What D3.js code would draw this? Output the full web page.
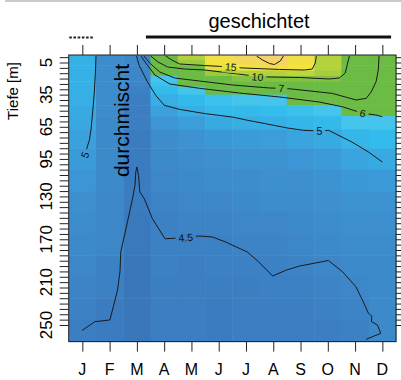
<!DOCTYPE html>
<html>
<head>
<meta charset="utf-8">
<script src="https://cdn.jsdelivr.net/npm/d3@7"></script>
<style>
  html, body { margin: 0; padding: 0; background: #fff; }
  svg { display: block; font-family: "Liberation Sans", Arial, sans-serif; }
</style>
</head>
<body>
<div id="chart"></div>
<script>
// months (x) and depth rows (y, m)
const months = ["J", "F", "M", "A", "M", "J", "J", "A", "S", "O", "N", "D"];
const depths = [0, 5, 10, 15, 20, 25, 30, 40, 50, 60, 75, 95, 115, 135, 155, 175, 195, 215, 235, 255];

// temperature per month, one value per depth row (°C)
const janT = [5.4, 5.4, 5.4, 5.4, 5.4, 5.4, 5.4, 5.35, 5.3, 5.25, 5.15, 5.05, 4.95, 4.85, 4.8, 4.75, 4.7, 4.65, 4.6, 4.55];
const febT = [4.8, 4.8, 4.8, 4.8, 4.8, 4.8, 4.8, 4.8, 4.8, 4.75, 4.75, 4.75, 4.75, 4.7, 4.7, 4.7, 4.6, 4.6, 4.5, 4.5];
const marT = [4.7, 4.7, 4.7, 4.7, 4.7, 4.7, 4.6, 4.55, 4.55, 4.55, 4.5, 4.5, 4.5, 4.5, 4.45, 4.45, 4.4, 4.4, 4.4, 4.4];
const aprT = [8, 7.5, 7, 6.5, 5.9, 5.8, 5.65, 5.35, 5.15, 4.95, 4.8, 4.75, 4.7, 4.65, 4.6, 4.6, 4.6, 4.55, 4.55, 4.55];
const mayT = [12, 11, 9, 8, 7, 6.3, 5.9, 5.6, 5.35, 5.1, 4.9, 4.8, 4.75, 4.7, 4.65, 4.6, 4.55, 4.55, 4.55, 4.55];
const junT = [15, 14.5, 14, 11, 9, 8, 7, 5.8, 5.6, 5.3, 5.0, 4.85, 4.8, 4.7, 4.65, 4.6, 4.6, 4.55, 4.5, 4.5];
const julT = [16, 15.5, 14.5, 12, 10, 8.5, 7, 5.9, 5.6, 5.35, 5.05, 4.9, 4.8, 4.75, 4.7, 4.65, 4.6, 4.55, 4.55, 4.55];
const augT = [16.5, 16, 15, 12, 10, 8.5, 7, 5.9, 5.7, 5.4, 5.1, 4.9, 4.85, 4.8, 4.7, 4.65, 4.6, 4.6, 4.55, 4.55];
const sepT = [15, 14.8, 14.5, 12.5, 10, 8, 7, 6.5, 5.8, 5.5, 5.2, 4.95, 4.85, 4.8, 4.75, 4.7, 4.65, 4.6, 4.55, 4.55];
const octT = [12, 12, 12, 11.5, 10, 8, 7, 6.5, 5.9, 5.6, 5.3, 5.05, 4.9, 4.85, 4.8, 4.75, 4.7, 4.65, 4.6, 4.55];
const novT = [9, 9, 9, 8.8, 8.5, 8, 7.5, 7, 6.2, 5.9, 5.5, 5.2, 5.0, 4.9, 4.85, 4.8, 4.75, 4.7, 4.65, 4.6];
const decT = [7, 7, 7, 7, 7, 6.9, 6.8, 6.6, 6.3, 5.9, 5.65, 5.3, 5.05, 4.9, 4.85, 4.8, 4.75, 4.75, 4.75, 4.75];
const columns = [janT, febT, marT, aprT, mayT, junT, julT, augT, sepT, octT, novT, decT];

// isotherms: [month, depth], label at index `at`
const iso15 = [[4.06, -1], [4.28, 2.7], [4.57, 6.4], [5.48, 7.8], [6.03, 8.6], [6.44, 9.2], [6.87, 10.1], [8.23, 11.5], [9.14, 12.0], [9.43, 11.1], [9.54, 5.5], [9.58, -1]];
const iso16 = [[7.39, -1], [7.61, 2.7], [7.86, 5.9], [8.04, 6.9], [8.26, 3.6], [8.37, -1]];
const iso10 = [[3.51, -1], [3.77, 4.5], [4.13, 9.2], [4.75, 11.1], [5.49, 12.0], [6.40, 14.8], [7.13, 17.1], [7.42, 18.5], [7.79, 18.5], [8.96, 19.0], [10.05, 20.4], [10.42, 19.5], [10.64, 14.8], [10.71, 7.3], [10.79, -1]];
const iso7 = [[3.26, -1], [3.47, 5.5], [3.84, 13.9], [4.39, 19.5], [5.30, 22.3], [6.51, 26.0], [7.86, 28.8], [8.30, 29.1], [8.66, 29.7], [10.16, 33.8], [11.04, 40.0], [11.41, 38.4], [11.59, 32.5], [11.77, 22.9], [11.85, 12.0], [11.88, -1]];
const iso6 = [[3.15, -1], [3.33, 5.5], [3.66, 16.7], [4.21, 25.1], [5.30, 29.1], [6.76, 33.5], [8.23, 37.2], [9.69, 41.9], [10.53, 46.3], [11.28, 52.4], [11.76, 54.0], [12.0, 55.6]];
const iso5 = [[2.99, -1], [3.08, 7.6], [3.39, 23.2], [3.69, 35.6], [4.00, 44.9], [4.55, 48.7], [5.52, 52.8], [6.50, 55.9], [7.05, 58.9], [7.71, 62.1], [8.51, 66.1], [9.11, 68.3], [9.69, 68.9], [10.03, 68.3], [10.88, 79.2], [11.49, 88.5], [12.0, 97.9]];
const iso5left = [[1.5, -1], [1.48, 13.9], [1.44, 32.5], [1.38, 51.2], [1.32, 67.1], [1.26, 77.3], [1.18, 83.9], [1.10, 91.3], [1.0, 96.0]];
const iso45 = [[0.99, 255.1], [1.46, 246.9], [2.01, 245.3], [2.20, 226.7], [2.29, 217.3], [2.38, 200.3], [2.41, 181.9], [2.60, 160.1], [2.84, 132.1], [2.93, 119.6], [2.96, 107.2], [3.0, 102.5], [3.06, 110.3], [3.11, 125.9], [3.27, 132.1], [3.57, 150.8], [4.03, 169.5], [4.79, 168.5], [5.28, 166.9], [5.77, 167.9], [6.25, 172.5], [7.05, 181.9], [7.47, 191.2], [7.98, 204.3], [8.45, 199.0], [8.96, 195.0], [10.02, 189.8], [10.54, 200.3], [11.03, 214.3], [11.27, 226.7], [11.49, 239.1], [11.61, 241.6], [11.60, 246.9], [11.82, 250.0], [11.94, 257.8], [11.40, 263.4]];
const isolines = [
  { label: "15", pts: iso15, at: 5 },
  { label: null, pts: iso16, at: -1 },
  { label: "10", pts: iso10, at: 7 },
  { label: "7", pts: iso7, at: 7 },
  { label: "6", pts: iso6, at: 9 },
  { label: "5", pts: iso5, at: 12 },
  { label: "5", pts: iso5left, at: 7 },
  { label: "4.5", pts: iso45, at: 17 }
];

const depthTicks = d3.range(0, 255, 5);
const depthLabels = [5, 35, 65, 95, 130, 170, 210, 250];
// periods on top (month units)
const mixedSpan = [0.52, 1.44];
const stratSpan = [3.33, 12.32];

const W = 401, H = 380;
const svg = d3.select("#chart").append("svg").attr("width", W).attr("height", H);

const x = d3.scaleLinear().domain([0.5, 12.5]).range([68.7, 396]);
const y = d3.scaleLinear().domain([-2, 265.5]).range([55, 341.6]);

const color = d3.scaleLinear()
  .domain([4.4, 4.5, 4.6, 4.7, 4.8, 4.9, 5.0, 5.2, 5.4, 5.7, 5.95, 6.0, 9, 11, 13, 14.5, 16.5])
  .range(["#3a76ba", "#3b7bbf", "#3c81c4", "#3d87c9", "#3d8ccc", "#3d92d1", "#3b98d6", "#3aa4de",
          "#36b1e6", "#32bdec", "#4ac6ec", "#6bbb45", "#6bbb45", "#9ccb3d", "#c9d83a", "#f0e33b", "#f5d070"])
  .clamp(true);

// faint frame line at the very top
svg.append("rect").attr("x", 5).attr("y", 0).attr("width", W - 5).attr("height", 2).attr("fill", "#c9c9c9");

// cell edges: midpoints between sampled depths
const edges = [y.domain()[0]];
for (let i = 1; i < depths.length; i++) edges.push((depths[i - 1] + depths[i]) / 2);
edges.push(y.domain()[1]);

const cells = [];
columns.forEach((col, mi) => col.forEach((t, di) => cells.push({ m: mi + 1, di, t })));

svg.append("g")
  .selectAll("rect")
  .data(cells)
  .join("rect")
    .attr("x", d => x(d.m - 0.5))
    .attr("y", d => y(edges[d.di]))
    .attr("width", d => x(d.m + 0.5) - x(d.m - 0.5) + 0.5)
    .attr("height", d => y(edges[d.di + 1]) - y(edges[d.di]) + 0.5)
    .attr("fill", d => color(d.t));

// isotherms with gaps under their labels
const line = d3.line().x(d => x(d[0])).y(d => y(d[1]));
const mask = svg.append("defs").append("mask").attr("id", "gaps");
mask.append("rect").attr("width", W).attr("height", H).attr("fill", "white");

const labelG = svg.append("g");
isolines.forEach(c => {
  if (!c.label) return;
  const p = c.pts[c.at], a = c.pts[c.at - 1], b = c.pts[c.at + 1];
  let ang = Math.atan2(y(b[1]) - y(a[1]), x(b[0]) - x(a[0])) * 180 / Math.PI;
  if (ang > 90) ang -= 180;
  if (ang < -90) ang += 180;
  const tf = `translate(${x(p[0])},${y(p[1])}) rotate(${ang})`;
  const t = labelG.append("text")
    .attr("transform", tf)
    .attr("text-anchor", "middle")
    .attr("dy", "0.35em")
    .attr("font-size", 10.5)
    .attr("fill", "#111")
    .text(c.label);
  const w = t.node().getComputedTextLength() + 6;
  mask.append("rect")
    .attr("transform", tf)
    .attr("x", -w / 2).attr("y", -6).attr("width", w).attr("height", 12)
    .attr("fill", "black");
});

svg.insert("g", () => labelG.node())
  .attr("mask", "url(#gaps)")
  .selectAll("path")
  .data(isolines)
  .join("path")
    .attr("d", d => line(d.pts))
    .attr("fill", "none")
    .attr("stroke", "#1a1a1a")
    .attr("stroke-width", 1);

// frame
svg.append("rect")
  .attr("x", x(0.5)).attr("y", y(-2))
  .attr("width", x(12.5) - x(0.5)).attr("height", y(265.5) - y(-2))
  .attr("fill", "none").attr("stroke", "#222").attr("stroke-width", 1);

// axes (ticks only, labels drawn separately)
const axisStyle = g => {
  g.select(".domain").remove();
  g.selectAll(".tick line").attr("stroke", "#222");
  g.selectAll(".tick text").remove();
};
svg.append("g").attr("transform", `translate(${x(0.5)},0)`)
  .call(d3.axisLeft(y).tickValues(depthTicks).tickSize(9)).call(axisStyle);
svg.append("g").attr("transform", `translate(${x(12.5)},0)`)
  .call(d3.axisRight(y).tickValues(depthTicks).tickSize(5)).call(axisStyle);
svg.append("g").attr("transform", `translate(0,${y(265.5)})`)
  .call(d3.axisBottom(x).tickValues(d3.range(1, 13)).tickSize(10)).call(axisStyle);
svg.append("g").attr("transform", `translate(0,${y(-2)})`)
  .call(d3.axisTop(x).tickValues(d3.range(1, 13)).tickSize(10)).call(axisStyle);

svg.append("g")
  .selectAll("text")
  .data(months)
  .join("text")
    .attr("x", (d, i) => x(i + 1))
    .attr("y", 375)
    .attr("text-anchor", "middle")
    .attr("font-size", 16)
    .text(d => d);

svg.append("g")
  .selectAll("text")
  .data(depthLabels)
  .join("text")
    .attr("transform", d => `translate(52,${y(d)}) rotate(-90)`)
    .attr("text-anchor", "middle")
    .attr("font-size", 17)
    .text(d => d);

svg.append("text")
  .attr("transform", "translate(18,91) rotate(-90)")
  .attr("text-anchor", "middle")
  .attr("font-size", 15)
  .text("Tiefe [m]");

svg.append("text")
  .attr("transform", "translate(129,120.5) rotate(-90)")
  .attr("text-anchor", "middle")
  .attr("font-size", 21)
  .text("durchmischt");

// mixing / stratification bars
svg.append("line")
  .attr("x1", x(mixedSpan[0])).attr("x2", x(mixedSpan[1]))
  .attr("y1", 37.5).attr("y2", 37.5)
  .attr("stroke", "#222").attr("stroke-width", 2).attr("stroke-dasharray", "2.6,1.6");
svg.append("line")
  .attr("x1", x(stratSpan[0])).attr("x2", x(stratSpan[1]))
  .attr("y1", 37).attr("y2", 37)
  .attr("stroke", "#111").attr("stroke-width", 3);
svg.append("text")
  .attr("x", 259).attr("y", 28)
  .attr("text-anchor", "middle")
  .attr("font-size", 20)
  .text("geschichtet");
</script>
</body>
</html>
